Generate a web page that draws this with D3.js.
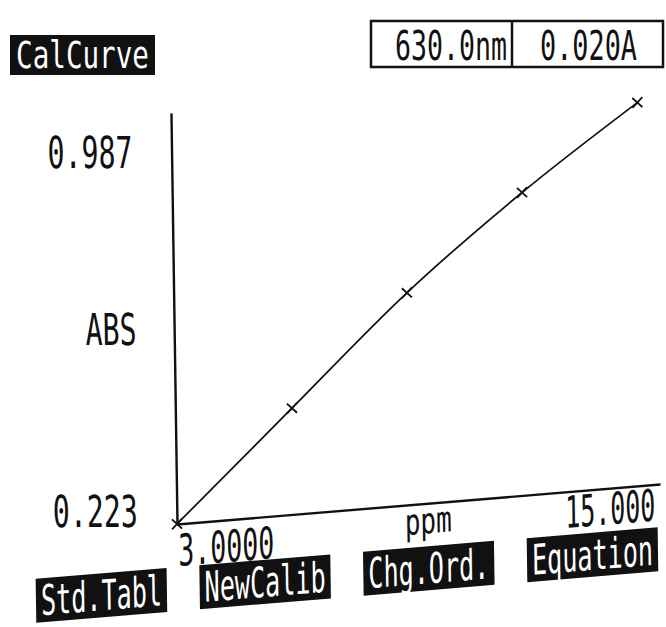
<!DOCTYPE html>
<html>
<head>
<meta charset="utf-8">
<script src="https://cdn.jsdelivr.net/npm/d3@7"></script>
<style>
  body { margin: 0; background: #fff; }
</style>
</head>
<body>
<div id="chart"></div>
<script>
// calibration standards
const ppm = [3, 6, 9, 12, 15];
const absValues = [0.223, 0.449, 0.674, 0.867, 1.038];
// axis labels shown by the instrument
const yTicks = [0.223, 0.987];
const xTicks = [3, 15];
const yLabel = 'ABS';
const xLabel = 'ppm';
const title = 'CalCurve';
const readout = ['630.0nm', '0.020A'];
const softKeys = ['Std.Tabl', 'NewCalib', 'Chg.Ord.', 'Equation'];

const W = 666, H = 627;
const ink = '#111';
const origin = [177, 524];
// the scanned screen is slightly sheared
const shearY = -0.0826, shearX = 0.0147;

const svg = d3.select('#chart')
  .append('svg')
  .attr('width', W)
  .attr('height', H)
  .style('font-family', '"DejaVu Sans Mono", monospace');

// squeeze a text horizontally so it takes the given width (tall narrow LCD font)
function condense(sel, width) {
  sel.each(function (d, i) {
    const w = typeof width === 'function' ? width(d, i) : width;
    const el = d3.select(this);
    const nat = this.getComputedTextLength();
    const tx = +el.attr('x') || 0;
    const ty = +el.attr('y') || 0;
    el.attr('x', 0).attr('y', 0)
      .attr('transform', `translate(${tx},${ty}) scale(${w / nat},1)`);
  });
}

const data = ppm.map((p, i) => ({ ppm: p, abs: absValues[i] }));

//scales
const x = d3.scaleLinear().domain([3, 15]).range([0, 466]);
const y = d3.scaleLinear().domain([0.223, 0.987]).range([0, -359]);

// axes run a bit past the plotted range
const xAxisScale = x.copy().domain([3, x.invert(483)]).range([0, 483]);
const yAxisScale = y.copy().domain([0.223, y.invert(-411)]).range([0, -411]);

const plot = svg.append('g')
  .attr('transform', `matrix(1,${shearY},${shearX},1,${origin[0]},${origin[1]})`);

plot.append('g')
  .call(d3.axisBottom(xAxisScale).tickValues([]).tickSizeOuter(0))
  .call((g) => g.select('.domain').attr('stroke', ink).attr('stroke-width', 2.4));

plot.append('g')
  .call(d3.axisLeft(yAxisScale).tickValues([]).tickSizeOuter(0))
  .call((g) => g.select('.domain').attr('stroke', ink).attr('stroke-width', 2.4));

// fitted curve
const line = d3.line()
  .x((d) => x(d.ppm))
  .y((d) => y(d.abs))
  .curve(d3.curveMonotoneX);

plot.append('path')
  .datum(data)
  .attr('fill', 'none')
  .attr('stroke', ink)
  .attr('stroke-width', 1.8)
  .attr('d', line);

// x marks for each standard
plot.selectAll('.mark')
  .data(data)
  .join('path')
  .attr('class', 'mark')
  .attr('transform', (d) => `translate(${x(d.ppm)},${y(d.abs)})`)
  .attr('d', 'M-5,-5L5,5M-5,5L5,-5')
  .attr('stroke', ink)
  .attr('stroke-width', 1.8);

// x tick labels
const fmtX = d3.format('.5g');
plot.selectAll('.xlab')
  .data(xTicks)
  .join('text')
  .attr('class', 'xlab')
  .attr('x', (d, i) => (i === 0 ? x(d) + 1 : x(d) + 12))
  .attr('y', (d, i) => (i === 0 ? 42 : 36))
  .attr('text-anchor', (d, i) => (i === 0 ? 'start' : 'end'))
  .attr('font-size', 44)
  .attr('fill', ink)
  .text(fmtX)
  .call(condense, (d, i) => (i === 0 ? 96 : 90));

plot.append('text')
  .attr('x', (x(3) + x(15)) / 2 + 18)
  .attr('y', 30)
  .attr('text-anchor', 'middle')
  .attr('font-size', 36)
  .attr('fill', ink)
  .text(xLabel)
  .call(condense, 47);

// soft keys along the bottom
const keyBand = d3.scaleBand().domain(softKeys).range([-142, 480]).paddingInner(0.2);
const keys = plot.selectAll('.key')
  .data(softKeys)
  .join('g')
  .attr('class', 'key')
  .attr('transform', (d) => `translate(${keyBand(d)},43)`);

keys.append('rect')
  .attr('width', keyBand.bandwidth())
  .attr('height', 44)
  .attr('fill', ink);

keys.append('text')
  .attr('x', keyBand.bandwidth() / 2)
  .attr('y', 37)
  .attr('text-anchor', 'middle')
  .attr('font-size', 42)
  .attr('fill', '#fff')
  .text((d) => d)
  .call(condense, keyBand.bandwidth() - 10);

// y labels only follow the lean of the y axis
const yLabels = svg.append('g')
  .attr('transform', `matrix(1,0,${shearX},1,${origin[0]},${origin[1]})`);

const fmtY = d3.format('.3f');
yLabels.selectAll('.ylab')
  .data(yTicks)
  .join('text')
  .attr('class', 'ylab')
  .attr('x', -39)
  .attr('y', (d) => y(d) + 3)
  .attr('text-anchor', 'end')
  .attr('font-size', 44)
  .attr('fill', ink)
  .text(fmtY)
  .call(condense, 85);

yLabels.append('text')
  .attr('x', -63)
  .attr('y', y((yTicks[0] + yTicks[1]) / 2))
  .attr('text-anchor', 'middle')
  .attr('font-size', 44)
  .attr('fill', ink)
  .text(yLabel)
  .call(condense, 51);

// title key, top left
const head = svg.append('g').attr('transform', 'translate(10,35)');
head.append('rect').attr('width', 145).attr('height', 40).attr('fill', ink);
head.append('text')
  .attr('x', 72.5)
  .attr('y', 33)
  .attr('text-anchor', 'middle')
  .attr('font-size', 37)
  .attr('fill', '#fff')
  .text(title)
  .call(condense, 133);

// wavelength / absorbance readout, top right
const box = svg.append('g').attr('transform', 'translate(371,21)');
const cellW = [141, 151];
box.append('rect')
  .attr('width', d3.sum(cellW))
  .attr('height', 46)
  .attr('fill', 'none')
  .attr('stroke', ink)
  .attr('stroke-width', 2.5);
box.append('line')
  .attr('x1', cellW[0]).attr('x2', cellW[0])
  .attr('y1', 0).attr('y2', 46)
  .attr('stroke', ink)
  .attr('stroke-width', 2.5);
box.selectAll('.rd')
  .data(readout)
  .join('text')
  .attr('class', 'rd')
  .attr('x', (d, i) => (i === 0 ? cellW[0] - 5 : cellW[0] + 28))
  .attr('y', 39)
  .attr('text-anchor', (d, i) => (i === 0 ? 'end' : 'start'))
  .attr('font-size', 40)
  .attr('fill', ink)
  .text((d) => d)
  .call(condense, (d, i) => (i === 0 ? 112 : 97));
</script>
</body>
</html>
